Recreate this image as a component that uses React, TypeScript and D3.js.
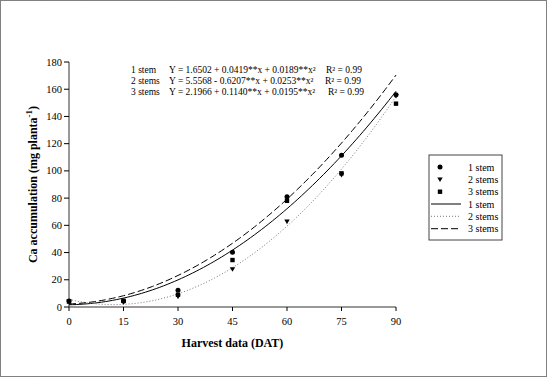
import React from "react";
import * as d3 from "d3";

const days = [0, 15, 30, 45, 60, 75, 90];
const stem1 = [4.5, 4.5, 12.3, 40.3, 81, 111.4, 156];
const stem2 = [4, 3.5, 7.6, 27.7, 62.7, 97, 155];
const stem3 = [4, 4.5, 9, 34.5, 78, 98.2, 149.4];
const coef1 = [1.6502, 0.0419, 0.0189];
const coef2 = [5.5568, -0.6207, 0.0253];
const coef3 = [2.1966, 0.114, 0.0195];
const yTicks = [0, 20, 40, 60, 80, 100, 120, 140, 160, 180];
const eqLabels = ["1 stem", "2 stems", "3 stems"];
const eqTexts = [
  "Y = 1.6502 + 0.0419**x + 0.0189**x²",
  "Y = 5.5568 - 0.6207**x + 0.0253**x²",
  "Y = 2.1966 + 0.1140**x + 0.0195**x²",
];
const r2Texts = ["R² = 0.99", "R² = 0.99", "R² = 0.99"];

const W = 547, H = 377;
const FONT = "Liberation Serif, Times New Roman, serif";

export default function App() {
  const x = d3.scaleLinear().domain([0, 90]).range([69, 396]);
  const y = d3.scaleLinear().domain([0, 180]).range([307, 62]);
  const fine = d3.range(0, 90.01, 1);
  const curve = (c: number[]) =>
    d3.line<number>().x((d) => x(d)).y((d) => y(c[0] + c[1] * d + c[2] * d * d))(fine) || "";

  const circle = (cx: number, cy: number, k: string) => <circle key={k} cx={cx} cy={cy} r={2.5} fill="#000" />;
  const tri = (cx: number, cy: number, k: string) => (
    <path key={k} d={`M${cx - 2.7},${cy - 2.1}L${cx + 2.7},${cy - 2.1}L${cx},${cy + 2.5}Z`} fill="#000" />
  );
  const sq = (cx: number, cy: number, k: string) => (
    <rect key={k} x={cx - 2.2} y={cy - 2.2} width={4.4} height={4.4} fill="#000" />
  );

  const lineStyles = [
    { dash: "none", color: "#000", w: 1 },
    { dash: "1,2", color: "#777", w: 1 },
    { dash: "7,3", color: "#000", w: 1 },
  ];

  const legY = [167, 179.5, 191.7, 204, 216.3, 228.7];
  const legLabels = ["1 stem", "2 stems", "3 stems", "1 stem", "2 stems", "3 stems"];

  return (
    <svg width={W} height={H} style={{ position: "absolute", left: 0, top: 0, background: "#fff" }} fontFamily={FONT}>
      <rect x={0.5} y={0.5} width={W - 1} height={H - 1} fill="#fff" stroke="#000" strokeDasharray="1,1" />
      {/* axes */}
      <line x1={69} x2={69} y1={62} y2={307} stroke="#333" />
      <line x1={69} x2={396} y1={307} y2={307} stroke="#333" />
      {yTicks.map((t) => (
        <g key={"y" + t}>
          <line x1={64} x2={69} y1={y(t)} y2={y(t)} stroke="#000" />
          <text x={62} y={y(t) + 3.6} fontSize={10.5} textAnchor="end">{t}</text>
        </g>
      ))}
      {days.map((t) => (
        <g key={"x" + t}>
          <line x1={x(t)} x2={x(t)} y1={307} y2={311} stroke="#000" />
          <text x={x(t)} y={325} fontSize={10.5} textAnchor="middle">{t}</text>
        </g>
      ))}
      <text x={232.5} y={347} fontSize={12} fontWeight="bold" textAnchor="middle">Harvest data (DAT)</text>
      <text transform="translate(37,184.5) rotate(-90)" fontSize={12} fontWeight="bold" textAnchor="middle">
        Ca accumulation (mg planta<tspan dy={-5} fontSize={9}>-1</tspan><tspan dy={5}>)</tspan>
      </text>
      {/* curves */}
      {[coef1, coef2, coef3].map((c, i) => (
        <path key={"c" + i} d={curve(c)} fill="none" stroke={lineStyles[i].color} strokeWidth={lineStyles[i].w} strokeDasharray={lineStyles[i].dash} />
      ))}
      {/* points */}
      {days.map((d, i) => circle(x(d), y(stem1[i]), "a" + i))}
      {days.map((d, i) => tri(x(d), y(stem2[i]), "b" + i))}
      {days.map((d, i) => sq(x(d), y(stem3[i]), "c" + i))}
      {/* equations */}
      {eqLabels.map((l, i) => (
        <g key={"eq" + i} fontSize={9.5}>
          <text x={131} y={73 + i * 10.8}>{l}</text>
          <text x={169} y={73 + i * 10.8}>{eqTexts[i]}</text>
          <text x={326 + (i === 2 ? 2 : i === 1 ? -1 : 0)} y={73 + i * 10.8}>{r2Texts[i]}</text>
        </g>
      ))}
      {/* legend */}
      <rect x={429} y={155} width={73} height={85} fill="#fff" stroke="#444" />
      {circle(440, legY[0], "l0")}
      {tri(440, legY[1], "l1")}
      {sq(440, legY[2], "l2")}
      {[3, 4, 5].map((k, i) => (
        <line key={"ll" + k} x1={431} x2={461} y1={legY[k]} y2={legY[k]} stroke={lineStyles[i].color} strokeDasharray={lineStyles[i].dash} />
      ))}
      {legLabels.map((l, i) => (
        <text key={"lt" + i} x={468} y={legY[i] + 3.5} fontSize={10}>{l}</text>
      ))}
    </svg>
  );
}
